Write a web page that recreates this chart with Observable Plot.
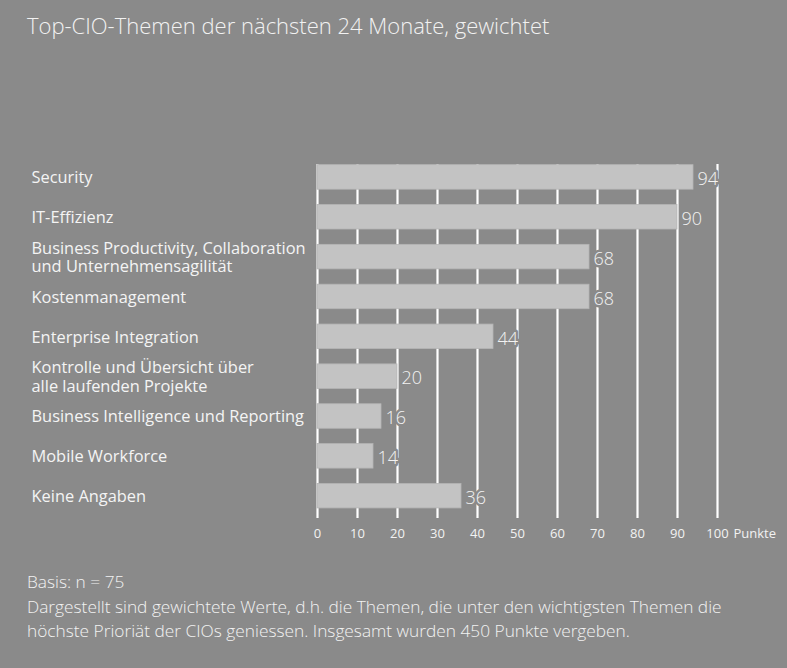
<!DOCTYPE html>
<html>
<head>
<meta charset="utf-8">
<script src="https://cdn.jsdelivr.net/npm/d3@7"></script>
<script src="https://cdn.jsdelivr.net/npm/@observablehq/plot@0.6"></script>
<style>
  html, body { margin: 0; padding: 0; background: #8a8a8a; }
  #wrap { position: relative; width: 787px; height: 668px; background: #8a8a8a; overflow: hidden;
          font-family: "Open Sans", "DejaVu Sans", sans-serif; color: #f2f2f2; }
  #title { position: absolute; left: 27px; top: 10px; font-size: 22px; font-weight: 300; white-space: nowrap; }
  #chart { position: absolute; left: 0; top: 140px; }
  #note { position: absolute; left: 27px; top: 570px; font-size: 17.3px; line-height: 24.5px; font-weight: 300; white-space: nowrap; }
</style>
</head>
<body>
<div id="wrap">
  <div id="title"></div>
  <div id="chart"></div>
  <div id="note"></div>
</div>
<script>
const titleText = "Top-CIO-Themen der nächsten 24 Monate, gewichtet";
const categories = [
  "Security",
  "IT-Effizienz",
  "Business Productivity, Collaboration\nund Unternehmensagilität",
  "Kostenmanagement",
  "Enterprise Integration",
  "Kontrolle und Übersicht über\nalle laufenden Projekte",
  "Business Intelligence und Reporting",
  "Mobile Workforce",
  "Keine Angaben"
];
const values = [94, 90, 68, 68, 44, 20, 16, 14, 36];
const xTicks = [0, 10, 20, 30, 40, 50, 60, 70, 80, 90, 100];
const unitLabel = "Punkte";
const noteLines = [
  "Basis: n = 75",
  "Dargestellt sind gewichtete Werte, d.h. die Themen, die unter den wichtigsten Themen die",
  "höchste Prioriät der CIOs geniessen. Insgesamt wurden 450 Punkte vergeben."
];

const data = categories.map((c, i) => ({topic: c, value: values[i]}));
const bg = "#8a8a8a";

const chart = Plot.plot({
  width: 787,
  height: 420,
  marginLeft: 317,
  marginRight: 70,
  marginTop: 14.7,
  marginBottom: 42.1,
  style: {background: "transparent", color: "#f2f2f2", fontFamily: "'Open Sans', 'DejaVu Sans', sans-serif"},
  x: {domain: [0, 100], axis: null},
  y: {domain: categories, paddingInner: 0.385, paddingOuter: 0.25, round: false, axis: null},
  marks: [
    Plot.gridX(xTicks, {stroke: "#ffffff", strokeOpacity: 1, strokeWidth: 2.2, insetTop: 9.3}),
    Plot.barX(data, {x: "value", y: "topic", fill: "#c3c3c3", stroke: "#b4b4b4", strokeWidth: 0.8}),
    Plot.text(data, {x: "value", y: "topic", text: d => String(d.value), dx: 4, dy: 2,
      textAnchor: "start", fontSize: 18, fontWeight: 300, fill: "#f2f2f2",
      stroke: bg, strokeWidth: 5, paintOrder: "stroke"}),
    Plot.axisY({tickSize: 0, tickPadding: 286, textAnchor: "start", fontSize: 16.4, lineHeight: 1.12,
      fill: "#f4f4f4", label: null}),
    Plot.axisX(xTicks, {tickSize: 0, tickPadding: 10, fontSize: 13, fill: "#f2f2f2", label: null}),
    Plot.text([unitLabel], {x: () => 100, frameAnchor: "bottom", text: d => d, dx: 16, dy: 10,
      lineAnchor: "top", textAnchor: "start", fontSize: 13, fill: "#f2f2f2"})
  ]
});

document.getElementById("chart").appendChild(chart);
document.getElementById("title").textContent = titleText;
document.getElementById("note").innerHTML = noteLines.map(s => `<div>${s}</div>`).join("");
</script>
</body>
</html>
